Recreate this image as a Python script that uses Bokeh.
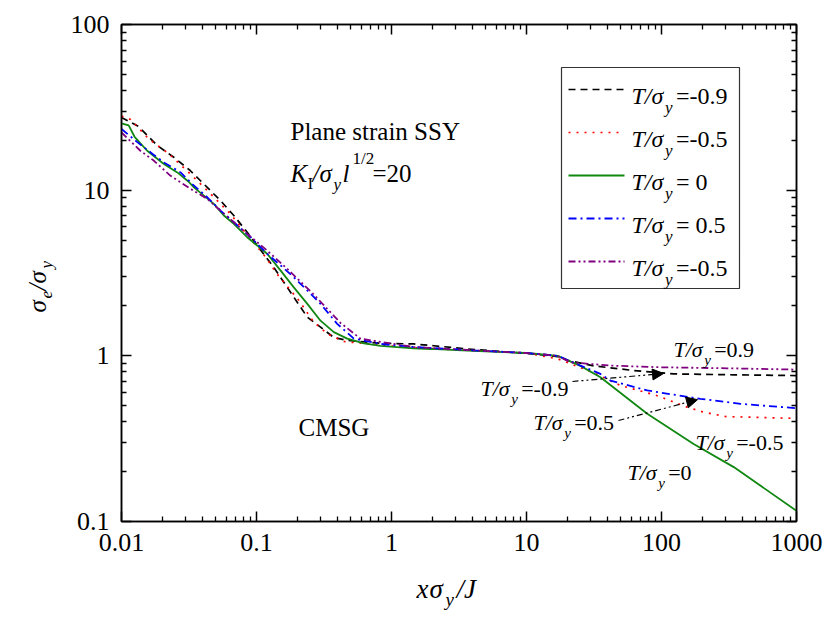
from math import pi

from bokeh.embed import file_html
from bokeh.layouts import column, row
from bokeh.models import (Arrow, BoxAnnotation, CustomJSTickFormatter, FixedTicker, Label,
                          LogAxis, NormalHead)
from bokeh.plotting import figure
from bokeh.resources import INLINE

# ---------------------------------------------------------------------------
# Effective stress ahead of the crack tip, CMSG, plane strain SSY
# ---------------------------------------------------------------------------
x_ticks = [0.01, 0.1, 1, 10, 100, 1000]
x_tick_labels = ["0.01", "0.1", "1", "10", "100", "1000"]
y_ticks = [0.1, 1, 10, 100]
y_tick_labels = ["0.1", "1", "10", "100"]

# T/sigma_y = -0.9
x_m09 = [0.01, 0.0134, 0.0184, 0.0244, 0.0324, 0.0407, 0.0541, 0.0679, 0.0853, 0.134,
         0.169, 0.238, 0.298, 0.374, 0.470, 0.830, 1.46, 2.06, 3.64, 10.7, 17.0, 20.0,
         31.5, 62.3, 123, 343, 1000]
y_m09 = [27.5, 24.2, 18.6, 15.8, 13.1, 10.9, 8.65, 7.03, 5.57, 3.43,
         2.59, 1.71, 1.49, 1.29, 1.24, 1.19, 1.18, 1.15, 1.10, 1.03, 0.99, 0.94,
         0.87, 0.815, 0.778, 0.768, 0.760]

# T/sigma_y = -0.5
x_m05 = [0.01, 0.0117, 0.0159, 0.0224, 0.0324, 0.0419, 0.0497, 0.0641, 0.0805, 0.117,
         0.142, 0.206, 0.265, 0.334, 0.444, 0.830, 1.46, 3.6, 10.0, 17.0, 31.5, 49.7,
         90.0, 155, 205, 300, 1000]
y_m05 = [28.0, 26.7, 20.4, 16.6, 12.5, 10.2, 8.86, 7.19, 5.70, 3.94,
         3.12, 2.16, 1.60, 1.36, 1.22, 1.16, 1.12, 1.08, 1.04, 0.96, 0.79, 0.662,
         0.58, 0.49, 0.457, 0.43, 0.419]

# T/sigma_y = 0
x_0 = [0.01, 0.0113, 0.0125, 0.0155, 0.0206, 0.0259, 0.0316, 0.0344, 0.0483, 0.0573,
       0.0679, 0.0853, 0.120, 0.151, 0.189, 0.238, 0.298, 0.374, 0.470, 0.624, 0.830,
       1.46, 1.95, 4.0, 10.0, 17.0, 25.1, 35.3, 78.4, 173, 343, 1000]
y_0 = [25.3, 24.6, 21.0, 17.3, 14.4, 12.8, 11.2, 10.4, 8.27, 7.03,
       6.26, 5.20, 4.13, 3.27, 2.59, 2.06, 1.63, 1.39, 1.27, 1.19, 1.15,
       1.11, 1.10, 1.07, 1.04, 1.0, 0.87, 0.743, 0.447, 0.294, 0.213, 0.116]

# T/sigma_y = 0.5
x_p05 = [0.01, 0.0131, 0.0169, 0.0206, 0.0274, 0.0334, 0.0432, 0.0541, 0.0679, 0.0904,
         0.120, 0.151, 0.189, 0.238, 0.298, 0.396, 0.526, 0.830, 1.46, 4.0, 10.0, 17.0,
         25.1, 35.3, 41.9, 78.4, 194, 385, 1000]
y_p05 = [23.4, 19.5, 16.6, 14.7, 12.8, 10.9, 9.06, 7.53, 6.40, 5.20,
         4.13, 3.51, 2.98, 2.48, 2.06, 1.56, 1.27, 1.18, 1.13, 1.08, 1.04, 1.0,
         0.873, 0.778, 0.709, 0.618, 0.550, 0.513, 0.483]

# T/sigma_y = 0.9
x_p09 = [0.01, 0.0138, 0.0173, 0.0231, 0.0324, 0.0432, 0.0541, 0.0853, 0.120, 0.169,
         0.265, 0.419, 0.589, 1.46, 4.0, 10.0, 17.0, 21.2, 41.9, 98.4, 307, 1000]
y_p09 = [22.3, 17.3, 15.1, 12.2, 10.2, 8.86, 7.53, 5.45, 4.32, 3.35,
         2.35, 1.58, 1.27, 1.13, 1.08, 1.04, 1.0, 0.914, 0.873, 0.853, 0.841, 0.826]

legend_values = ["=-0.9", "=-0.5", "= 0", "= 0.5", "=-0.5"]

SERIF = "Liberation Serif"

# page layout: a narrow strip for the vertical title on the left, the plot,
# and a strip under the plot for the horizontal title
STRIP_W = 60
PLOT_H = 565
TOTAL_W, TOTAL_H = 829, 619
FRAME_LEFT, FRAME_BOTTOM = 121, 521   # plot frame edges on the page

p = figure(width=TOTAL_W - STRIP_W, height=PLOT_H, x_axis_type="log", y_axis_type="log",
           x_range=(0.01, 1000), y_range=(0.1, 100),
           output_backend="svg", toolbar_location=None,
           min_border_left=FRAME_LEFT - STRIP_W, min_border_right=33,
           min_border_top=24, min_border_bottom=PLOT_H - FRAME_BOTTOM)
p.background_fill_color = "white"
p.border_fill_color = "white"
p.outline_line_color = "black"
p.outline_line_width = 1.5
p.xgrid.visible = False
p.ygrid.visible = False

x_minor = [m * 10.0 ** e for e in range(-2, 3) for m in range(2, 10)]
y_minor = [m * 10.0 ** e for e in range(-1, 2) for m in range(2, 10)]


def tick_formatter(vals, labels):
    return CustomJSTickFormatter(args=dict(tick_vals=vals, tick_text=labels), code="""
        for (let i = 0; i < tick_vals.length; i++) {
            if (Math.abs(Math.log10(tick_vals[i]) - Math.log10(tick)) < 1e-6) return tick_text[i];
        }
        return "";
    """)


def style_axis(ax, vals, minor, labels, show_labels):
    ax.ticker = FixedTicker(ticks=vals, minor_ticks=minor)
    ax.axis_line_color = "black"
    ax.axis_line_width = 1.5
    ax.major_tick_line_color = "black"
    ax.major_tick_line_width = 1.5
    ax.minor_tick_line_color = "black"
    ax.minor_tick_line_width = 1.3
    ax.major_tick_in = 10
    ax.major_tick_out = 0
    ax.minor_tick_in = 5
    ax.minor_tick_out = 0
    if show_labels:
        ax.formatter = tick_formatter(vals, labels)
        ax.major_label_text_font = SERIF
        ax.major_label_text_font_size = "26px"
        ax.major_label_text_color = "black"
        ax.major_label_standoff = 12
    else:
        ax.formatter = CustomJSTickFormatter(code="return '';")
        ax.major_label_text_font_size = "1px"
        ax.major_label_standoff = 0


style_axis(p.xaxis[0], x_ticks, x_minor, x_tick_labels, True)
style_axis(p.yaxis[0], y_ticks, y_minor, y_tick_labels, True)
top_axis = LogAxis()
right_axis = LogAxis()
style_axis(top_axis, x_ticks, x_minor, x_tick_labels, False)
style_axis(right_axis, y_ticks, y_minor, y_tick_labels, False)
p.add_layout(top_axis, "above")
p.add_layout(right_axis, "right")

# curves
styles = [
    (x_m09, y_m09, dict(line_color="black", line_width=1.7, line_dash="7 5")),
    (x_m05, y_m05, dict(line_color="red", line_width=1.7, line_dash="2 6")),
    (x_0, y_0, dict(line_color="#118811", line_width=1.8)),
    (x_p05, y_p05, dict(line_color="blue", line_width=1.8, line_dash="8 4 2 4")),
    (x_p09, y_p09, dict(line_color="#800080", line_width=1.8, line_dash="7 3 2 3 2 3")),
]
for xs, ys, kw in styles:
    p.line(xs, ys, **kw)


def text_strip(width, height):
    f = figure(width=width, height=height, x_range=(0, 1), y_range=(0, 1),
               x_axis_type=None, y_axis_type=None, output_backend="svg",
               toolbar_location=None, min_border=0)
    f.outline_line_color = None
    f.background_fill_color = "white"
    f.border_fill_color = "white"
    return f


ytitle = text_strip(STRIP_W, TOTAL_H)
xtitle = text_strip(TOTAL_W - STRIP_W, TOTAL_H - PLOT_H)

# (figure, page x of its frame's left edge, page y of its frame's bottom edge);
# the column lines the strip's frame up with the plot frame
PANELS = {"plot": (p, FRAME_LEFT, FRAME_BOTTOM),
          "ytitle": (ytitle, 0, TOTAL_H),
          "xtitle": (xtitle, FRAME_LEFT, TOTAL_H)}


def put(text, px, py, size, italic=False, angle=0.0, where="plot"):
    """Place a piece of text; px, py are page pixels (py = baseline)."""
    fig, left, bottom = PANELS[where]
    fig.add_layout(Label(x=px - left, y=bottom - py, x_units="screen", y_units="screen",
                         text=text, text_font=SERIF, text_font_size=f"{size}px",
                         text_font_style="italic" if italic else "normal",
                         text_color="black", text_align="left", text_baseline="alphabetic",
                         angle=angle))


def t_sigma(px, py_center, rest, size):
    base = py_center + 0.33 * size
    sub = round(size * 0.7)
    put("T/σ", px, base, size, italic=True)
    put("y", px + 1.4 * size, base + 0.45 * size, sub, italic=True)
    put(rest, px + 1.85 * size, base, size)


def box_edge(px, py):
    return px - FRAME_LEFT, FRAME_BOTTOM - py


# legend: frame, line samples and composed labels
l_, t_ = box_edge(561, 67)
r_, b_ = box_edge(739, 288)
p.add_layout(BoxAnnotation(left=l_, right=r_, top=t_, bottom=b_,
                           left_units="screen", right_units="screen",
                           top_units="screen", bottom_units="screen",
                           fill_color="white", fill_alpha=1.0,
                           line_color="#333333", line_width=1.2, line_alpha=1.0))
for i, (_, _, kw) in enumerate(styles):
    row_y = 89 + 43 * i
    x0, y0 = box_edge(568, row_y)
    x1, _ = box_edge(624, row_y)
    p.add_layout(Arrow(end=None, x_start=x0, y_start=y0, x_end=x1, y_end=y0,
                       start_units="screen", end_units="screen", **kw))
    t_sigma(631, row_y - 1, legend_values[i], 24)

# curve labels
t_sigma(673, 342, "=0.9", 22)
t_sigma(480, 381, "=-0.9", 22)
t_sigma(533, 415, "=0.5", 22)
t_sigma(695, 435, "=-0.5", 22)
t_sigma(627, 465, "=0", 22)

# pointers from labels to curves
for xs, ys, xe, ye in [(21.9, 0.70, 103.5, 0.782), (48.0, 0.407, 185.0, 0.544)]:
    p.add_layout(Arrow(end=NormalHead(size=11, fill_color="black", line_color="black", line_width=1),
                       x_start=xs, y_start=ys, x_end=xe, y_end=ye,
                       line_color="black", line_width=1.2, line_dash="6 3 2 3 2 3"))

# case description
put("Plane strain SSY", 290, 131, 25)
put("K", 290, 173, 25, italic=True)
put("I", 307, 183, 17)
put("/σ", 312, 173, 25, italic=True)
put("y", 333, 184, 17, italic=True)
put("l", 342, 173, 25, italic=True)
put("1/2", 352, 158, 17)
put("=20", 372, 173, 25)
put("CMSG", 298, 427, 25)

# axis titles
put("x", 416, 588, 27, italic=True, where="xtitle")
put("σ", 429, 588, 27, italic=True, where="xtitle")
put("y", 445, 599, 19, italic=True, where="xtitle")
put("/J", 456, 588, 27, italic=True, where="xtitle")

put("σ", 37, 312, 25, italic=True, angle=pi / 2, where="ytitle")
put("e", 46, 298, 17, italic=True, angle=pi / 2, where="ytitle")
put("/σ", 37, 290, 25, italic=True, angle=pi / 2, where="ytitle")
put("y", 46, 268, 17, italic=True, angle=pi / 2, where="ytitle")

page = row(ytitle, column(p, xtitle, spacing=0), spacing=0)
open("out.html", "w").write(file_html(page, INLINE))
